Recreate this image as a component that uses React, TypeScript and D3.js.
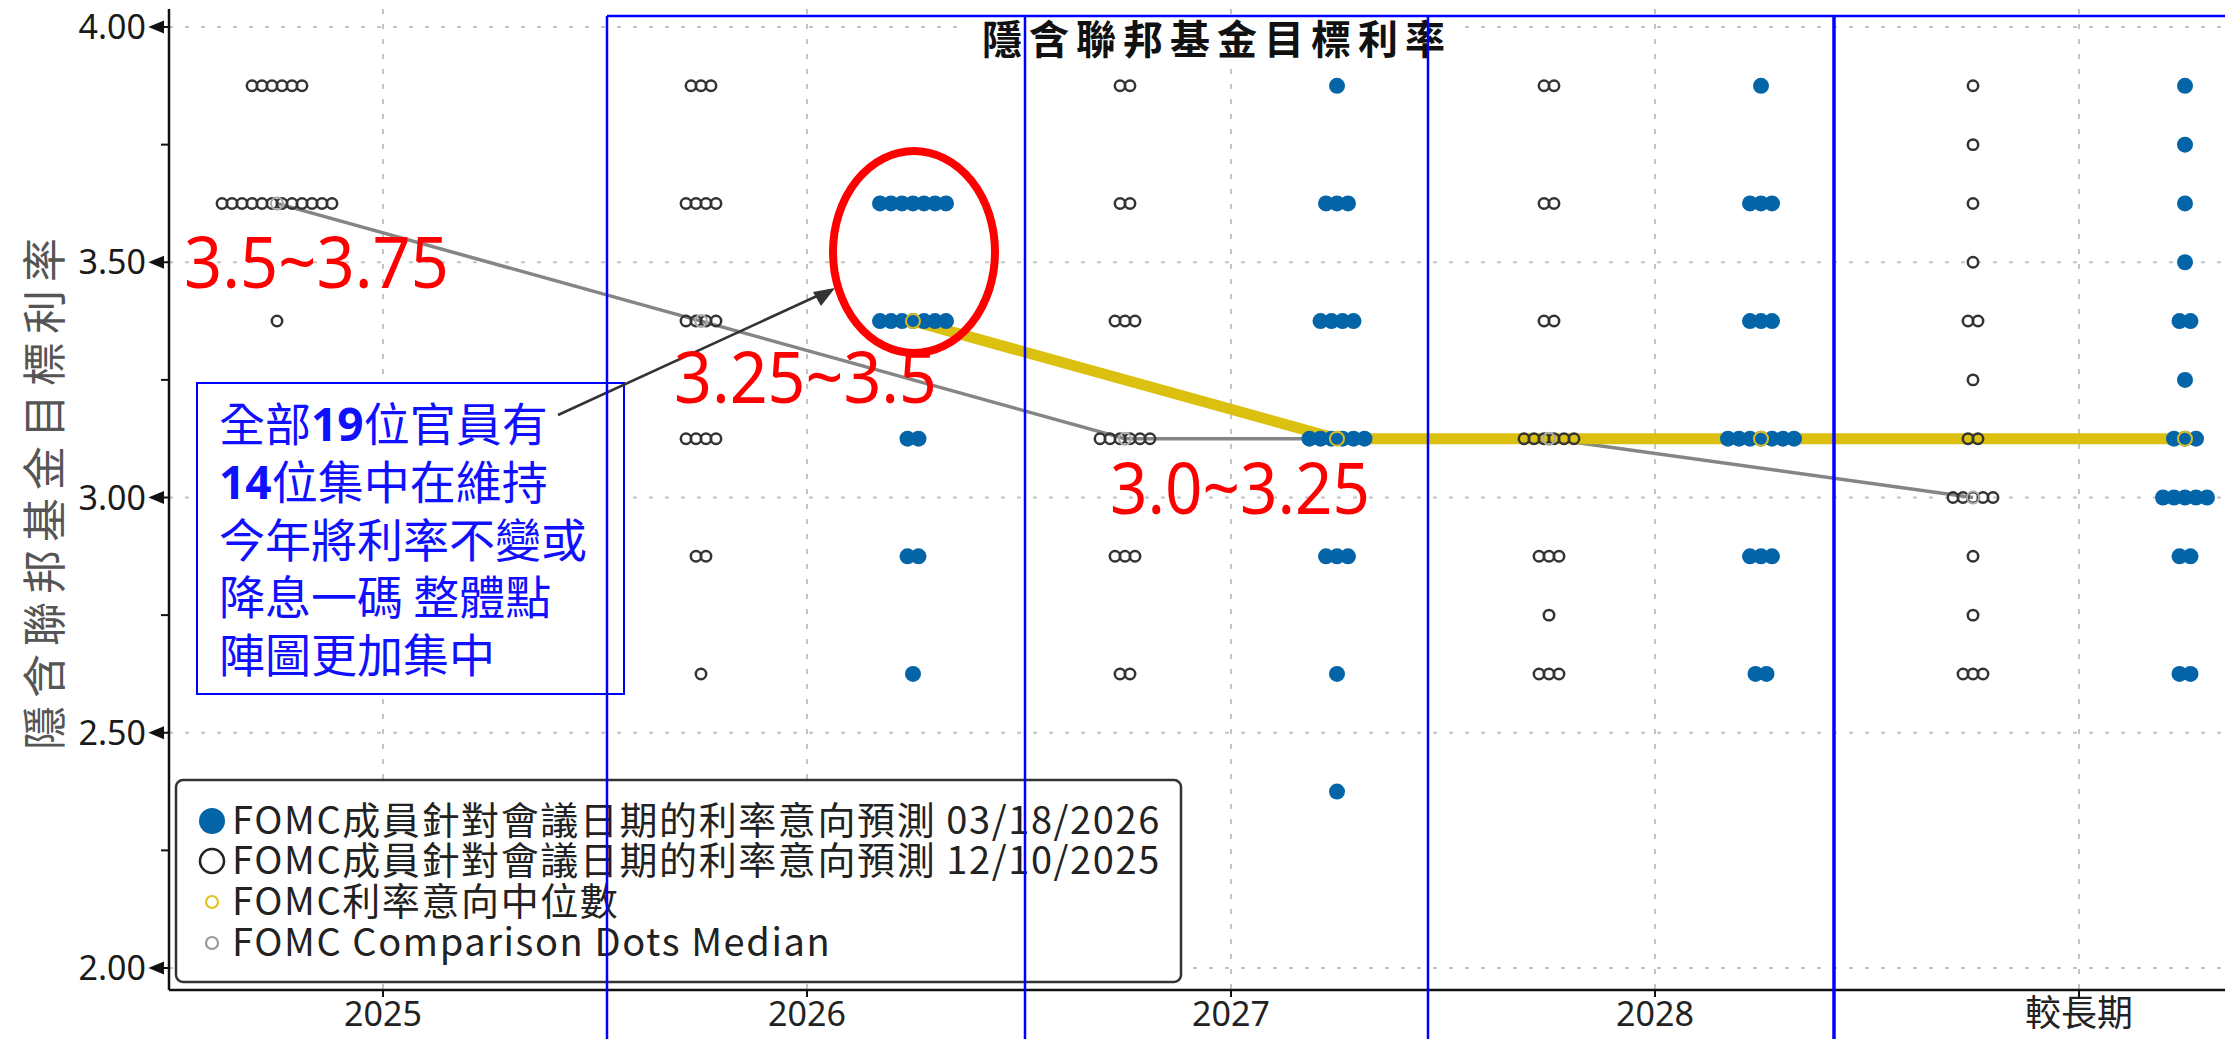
import React from 'react';
import * as d3 from 'd3';

const categories = ['2025', '2026', '2027', '2028', '較長期'];
const yMajorTicks = [2.0, 2.5, 3.0, 3.5, 4.0];
const yMinorTicks = [2.25, 2.75, 3.25, 3.75];

// Dec 10 2025 projections (hollow): [category, rate, count]
const dec2025Dots: [string, number, number][] = [
  ['2025', 3.875, 6], ['2025', 3.625, 12], ['2025', 3.375, 1],
  ['2026', 3.875, 3], ['2026', 3.625, 4], ['2026', 3.375, 4], ['2026', 3.125, 4], ['2026', 2.875, 2], ['2026', 2.625, 1],
  ['2027', 3.875, 2], ['2027', 3.625, 2], ['2027', 3.375, 3], ['2027', 3.125, 6], ['2027', 2.875, 3], ['2027', 2.625, 2],
  ['2028', 3.875, 2], ['2028', 3.625, 2], ['2028', 3.375, 2], ['2028', 3.125, 6], ['2028', 2.875, 3], ['2028', 2.75, 1], ['2028', 2.625, 3],
  ['較長期', 3.875, 1], ['較長期', 3.75, 1], ['較長期', 3.625, 1], ['較長期', 3.5, 1], ['較長期', 3.375, 2], ['較長期', 3.25, 1],
  ['較長期', 3.125, 2], ['較長期', 3.0, 5], ['較長期', 2.875, 1], ['較長期', 2.75, 1], ['較長期', 2.625, 3],
];

// Mar 18 2026 projections (filled)
const mar2026Dots: [string, number, number][] = [
  ['2026', 3.625, 7], ['2026', 3.375, 7], ['2026', 3.125, 2], ['2026', 2.875, 2], ['2026', 2.625, 1],
  ['2027', 3.875, 1], ['2027', 3.625, 3], ['2027', 3.375, 4], ['2027', 3.125, 6], ['2027', 2.875, 3], ['2027', 2.625, 1], ['2027', 2.375, 1],
  ['2028', 3.875, 1], ['2028', 3.625, 3], ['2028', 3.375, 3], ['2028', 3.125, 7], ['2028', 2.875, 3], ['2028', 2.625, 2],
  ['較長期', 3.875, 1], ['較長期', 3.75, 1], ['較長期', 3.625, 1], ['較長期', 3.5, 1], ['較長期', 3.375, 2], ['較長期', 3.25, 1],
  ['較長期', 3.125, 3], ['較長期', 3.0, 5], ['較長期', 2.875, 2], ['較長期', 2.625, 2],
];

const dec2025Medians: [string, number][] = [
  ['2025', 3.625], ['2026', 3.375], ['2027', 3.125], ['2028', 3.125], ['較長期', 3.0],
];
const mar2026Medians: [string, number][] = [
  ['2026', 3.375], ['2027', 3.125], ['2028', 3.125], ['較長期', 3.125],
];

const chartTitle = '隱含聯邦基金目標利率';
const yAxisTitle = '隱含聯邦基金目標利率';
const legendLabels = [
  'FOMC成員針對會議日期的利率意向預測 03/18/2026',
  'FOMC成員針對會議日期的利率意向預測 12/10/2025',
  'FOMC利率意向中位數',
  'FOMC Comparison Dots Median',
];
const rangeLabels = ['3.5~3.75', '3.25~3.5', '3.0~3.25'];
const noteLines: [string, string, string][] = [
  ['全部', '19', '位官員有'],
  ['', '14', '位集中在維持'],
  ['今年將利率不變或', '', ''],
  ['降息一碼 整體點', '', ''],
  ['陣圖更加集中', '', ''],
];

const W = 2225;
const H = 1039;
const AXIS_X = 169;
const AXIS_Y = 990;
const BLUE = '#0464a8';
const YELLOW = '#dcc010';
const CJK = '"Noto Sans CJK TC", "Noto Sans", sans-serif';
const LATIN = '"Noto Sans", "Noto Sans CJK TC", sans-serif';

export default function App() {
  const x = d3.scalePoint<string>().domain(categories).range([383, 2079]);
  const step = x.step();
  const off = step * 0.25;
  const y = d3.scaleLinear().domain([2, 4]).range([968, 27]);

  const hollowX = (c: string) => (x(c) as number) - off;
  const filledX = (c: string) => (x(c) as number) + off;

  const hollowDots: { cx: number; cy: number }[] = [];
  dec2025Dots.forEach(([c, r, n]) => {
    for (let j = 0; j < n; j++) {
      hollowDots.push({ cx: hollowX(c) + (j - (n - 1) / 2) * 10, cy: y(r) });
    }
  });
  const filledDots: { cx: number; cy: number }[] = [];
  mar2026Dots.forEach(([c, r, n]) => {
    for (let j = 0; j < n; j++) {
      filledDots.push({ cx: filledX(c) + (j - (n - 1) / 2) * 11, cy: y(r) });
    }
  });

  const grayLine = d3.line<[string, number]>().x((d) => hollowX(d[0])).y((d) => y(d[1]))(dec2025Medians) || '';
  const yellowLine = d3.line<[string, number]>().x((d) => filledX(d[0])).y((d) => y(d[1]))(mar2026Medians) || '';

  const topY = 9;
  const legendRows = [821, 861, 902, 943];

  return (
    <svg width={W} height={H} style={{ position: 'absolute', left: 0, top: 0, background: '#fff' }}>
      <rect x={0} y={0} width={W} height={H} fill="#fff" />
      {/* grid */}
      {yMajorTicks.map((t) => (
        <line key={'hg' + t} x1={AXIS_X} x2={W} y1={y(t)} y2={y(t)} stroke="#c4c4c4" strokeWidth={2} strokeDasharray="4,12" />
      ))}
      {categories.map((c) => (
        <line key={'vg' + c} x1={x(c)} x2={x(c)} y1={topY} y2={AXIS_Y} stroke="#c4c4c4" strokeWidth={2} strokeDasharray="5,10" />
      ))}

      {/* axes */}
      <line x1={AXIS_X} x2={AXIS_X} y1={topY} y2={AXIS_Y} stroke="#111" strokeWidth={2.5} />
      <line x1={AXIS_X} x2={W} y1={AXIS_Y} y2={AXIS_Y} stroke="#111" strokeWidth={2.5} />
      {yMajorTicks.map((t) => (
        <g key={'yt' + t}>
          <path d={`M${AXIS_X},${y(t)} H161 M151,${y(t)} L163,${y(t) - 5} L163,${y(t) + 5} Z`} fill="#111" stroke="#111" strokeWidth={2} />
          <text x={146} y={y(t) + 12} textAnchor="end" fontFamily={LATIN} fontSize={34} fill="#1a1a1a">
            {t.toFixed(2)}
          </text>
        </g>
      ))}
      {yMinorTicks.map((t) => (
        <line key={'ym' + t} x1={161} x2={AXIS_X} y1={y(t)} y2={y(t)} stroke="#111" strokeWidth={2} />
      ))}
      {categories.map((c) => (
        <g key={'xt' + c}>
          <line x1={x(c)} x2={x(c)} y1={AXIS_Y} y2={AXIS_Y + 7} stroke="#111" strokeWidth={2} />
          <text x={x(c)} y={1026} textAnchor="middle" fontFamily={c === '較長期' ? CJK : LATIN} fontSize={c === '較長期' ? 36 : 34} fill="#222">
            {c}
          </text>
        </g>
      ))}
      <text
        transform={`translate(61,490) rotate(-90)`}
        textAnchor="middle"
        fontFamily={CJK}
        fontSize={44}
        letterSpacing={8}
        fill="#555"
      >
        {yAxisTitle}
      </text>

      {/* median lines */}
      <path d={grayLine} fill="none" stroke="#858585" strokeWidth={3.5} />
      <path d={yellowLine} fill="none" stroke={YELLOW} strokeWidth={11} />

      {/* dots */}
      {hollowDots.map((d, i) => (
        <circle key={'h' + i} cx={d.cx} cy={d.cy} r={5.2} fill="none" stroke="#333" strokeWidth={2.5} />
      ))}
      {filledDots.map((d, i) => (
        <circle key={'f' + i} cx={d.cx} cy={d.cy} r={8} fill={BLUE} />
      ))}
      {dec2025Medians.map(([c, r]) => (
        <circle key={'gm' + c} cx={hollowX(c)} cy={y(r)} r={6} fill="none" stroke="#aaa" strokeWidth={2} />
      ))}
      {mar2026Medians.map(([c, r]) => (
        <circle key={'ym' + c} cx={filledX(c)} cy={y(r)} r={7} fill="none" stroke="#d8bc20" strokeWidth={2} />
      ))}

      {/* title */}
      <rect x={968} y={18} width={492} height={44} fill="#fff" />
      <text x={1217} y={54} textAnchor="middle" fontFamily={CJK} fontWeight="bold" fontSize={40} letterSpacing={7} fill="#111">
        {chartTitle}
      </text>

      {/* legend */}
      <rect x={176} y={780} width={1005} height={202} rx={7} fill="#fff" stroke="#333" strokeWidth={2.5} />
      <circle cx={212} cy={legendRows[0]} r={13} fill={BLUE} />
      <circle cx={212} cy={legendRows[1]} r={12} fill="none" stroke="#222" strokeWidth={2.5} />
      <circle cx={212} cy={legendRows[2]} r={6} fill="none" stroke="#e0c020" strokeWidth={2.2} />
      <circle cx={212} cy={legendRows[3]} r={6} fill="none" stroke="#999" strokeWidth={2.2} />
      {legendLabels.map((l, i) => (
        <text key={'lg' + i} x={232} y={legendRows[i] + 13} fontFamily={CJK} fontSize={38} letterSpacing={1.6} fill="#222">
          {l}
        </text>
      ))}

      {/* annotation box */}
      <rect x={197} y={383} width={427} height={311} fill="#fff" stroke="#0000ff" strokeWidth={2} />
      {noteLines.map((ln, i) => (
        <text key={'nl' + i} x={219} y={441 + i * 57.8} fontFamily={CJK} fontSize={46} fill="#1010ff">
          <tspan>{ln[0]}</tspan>
          {ln[1] && <tspan fontWeight="bold" fontFamily={LATIN}>{ln[1]}</tspan>}
          {ln[2] && <tspan>{ln[2]}</tspan>}
        </text>
      ))}

      {/* arrow */}
      <line x1={558} y1={415} x2={830} y2={290} stroke="#333" strokeWidth={2.5} />
      <path d="M835,288 L813,292 L821,306 Z" fill="#333" />

      {/* red ellipse */}
      <ellipse cx={914} cy={252} rx={81} ry={101} fill="none" stroke="#ff0000" strokeWidth={8} />

      {/* red range labels */}
      <text x={184} y={288} fontFamily={LATIN} fontSize={71} textLength={265} lengthAdjust="spacingAndGlyphs" fill="#ff0000">{rangeLabels[0]}</text>
      <text x={674} y={403} fontFamily={LATIN} fontSize={71} textLength={263} lengthAdjust="spacingAndGlyphs" fill="#ff0000">{rangeLabels[1]}</text>
      <text x={1110} y={514} fontFamily={LATIN} fontSize={71} textLength={260} lengthAdjust="spacingAndGlyphs" fill="#ff0000">{rangeLabels[2]}</text>

      {/* blue frames */}
      <line x1={607} x2={W} y1={16} y2={16} stroke="#0000ff" strokeWidth={2.5} />
      {[607, 1025, 1428].map((bx) => (
        <line key={'bl' + bx} x1={bx} x2={bx} y1={16} y2={H} stroke="#0000ff" strokeWidth={2.5} />
      ))}
      <line x1={1834} x2={1834} y1={16} y2={H} stroke="#0000ff" strokeWidth={3.5} />
    </svg>
  );
}
